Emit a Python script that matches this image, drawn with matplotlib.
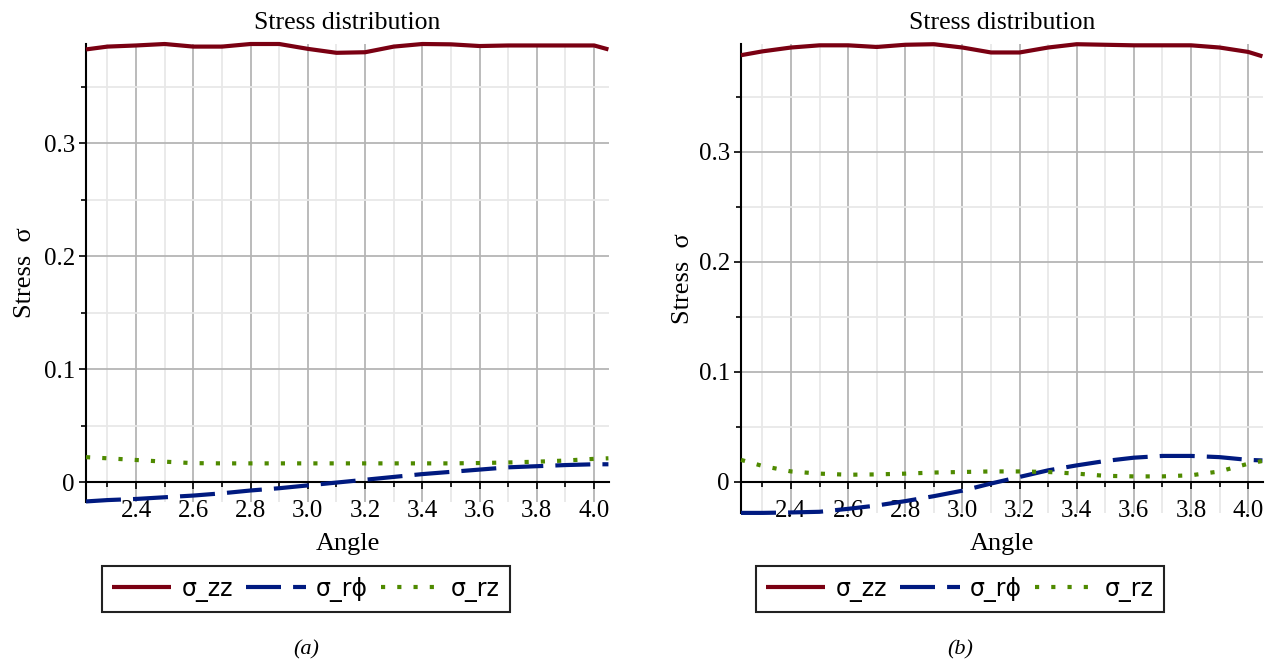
import matplotlib
matplotlib.use('Agg')
import matplotlib.pyplot as plt
from matplotlib.ticker import MultipleLocator, FuncFormatter

# ---------------- data ----------------
angle = [2.225, 2.3, 2.4, 2.5, 2.6, 2.7, 2.8, 2.9, 3.0, 3.1, 3.2,
         3.3, 3.4, 3.5, 3.6, 3.7, 3.8, 3.9, 4.0, 4.05]

# panel (a)
a_zz = [0.383, 0.3855, 0.3865, 0.3878, 0.3855, 0.3855, 0.3878, 0.3878, 0.3835, 0.3800,
        0.3805, 0.3855, 0.3878, 0.3875, 0.3860, 0.3865, 0.3865, 0.3865, 0.3865, 0.3830]
a_rphi = [-0.0172, -0.0160, -0.0150, -0.0135, -0.0120, -0.0100, -0.0075, -0.0055, -0.0030, -0.0005,
          0.0020, 0.0045, 0.0070, 0.0090, 0.0110, 0.0130, 0.0140, 0.0150, 0.0157, 0.0157]
a_rz = [0.0220, 0.0210, 0.0195, 0.0180, 0.0167, 0.0165, 0.0165, 0.0165, 0.0165, 0.0165,
        0.0165, 0.0165, 0.0165, 0.0165, 0.0168, 0.0173, 0.0180, 0.0190, 0.0205, 0.0210]

# panel (b)
b_zz = [0.3880, 0.3915, 0.3950, 0.3970, 0.3970, 0.3955, 0.3975, 0.3980, 0.3950, 0.3905,
        0.3905, 0.3950, 0.3980, 0.3975, 0.3970, 0.3970, 0.3970, 0.3950, 0.3910, 0.3870]
b_rphi = [-0.0282, -0.0282, -0.0278, -0.0272, -0.0245, -0.0215, -0.0175, -0.0130, -0.0080, -0.0015,
          0.0045, 0.0105, 0.0150, 0.0190, 0.0220, 0.0236, 0.0236, 0.0225, 0.0200, 0.0195]
b_rz = [0.0200, 0.0145, 0.0095, 0.0075, 0.0065, 0.0068, 0.0075, 0.0085, 0.0090, 0.0095,
        0.0095, 0.0090, 0.0075, 0.0055, 0.0050, 0.0050, 0.0060, 0.0095, 0.0165, 0.0190]

series_names = ['σ_zz', 'σ_rϕ', 'σ_rz']
x_view = (2.225, 4.052)
y_view_a = (-0.0177, 0.3878)
y_view_b = (-0.0283, 0.3982)
title_text = 'Stress distribution'
xlabel_text = 'Angle'
ylabel_text = 'Stress  σ'
captions = ['(a)', '(b)']

# ---------------- style ----------------
RED = '#7a0012'
BLUE = '#001a80'
GREEN = '#4f8a00'
SERIF = ['Liberation Serif', 'DejaVu Serif']
SANS = ['DejaVu Sans']

W, H = 1274, 664
fig = plt.figure(figsize=(W / 100, H / 100), dpi=100)


def px_rect(l, t, r, b):
    return [l / W, 1 - b / H, (r - l) / W, (b - t) / H]


def fmt_y(v, pos):
    if abs(v) < 1e-9:
        return '0'
    return f'{v:.1f}'


def make_panel(rect, zz, rphi, rz, yview, xlab_y, ylab_x, leg_center, caption):
    ax = fig.add_axes(rect)
    lw = 3.0
    l1, = ax.plot(angle, zz, color=RED, lw=lw, solid_capstyle='butt', clip_on=False, zorder=5)
    l2, = ax.plot(angle, rphi, color=BLUE, lw=lw, linestyle=(0, (8.4, 2.9)),
                  dash_capstyle='butt', clip_on=False, zorder=5)
    l3, = ax.plot(angle, rz, color=GREEN, lw=lw, linestyle=(0, (1.0, 2.9)),
                  dash_capstyle='butt', clip_on=False, zorder=5)
    ax.set_xlim(*x_view)
    ax.set_ylim(*yview)

    for s in ['top', 'right']:
        ax.spines[s].set_visible(False)
    ax.spines['bottom'].set_position(('data', 0))
    ax.spines['bottom'].set_linewidth(1.5)
    ax.spines['left'].set_linewidth(1.5)

    ax.xaxis.set_major_locator(MultipleLocator(0.2))
    ax.xaxis.set_minor_locator(MultipleLocator(0.1))
    ax.yaxis.set_major_locator(MultipleLocator(0.1))
    ax.yaxis.set_minor_locator(MultipleLocator(0.05))
    ax.xaxis.set_major_formatter(FuncFormatter(lambda v, p: f'{v:.1f}'))
    ax.yaxis.set_major_formatter(FuncFormatter(fmt_y))

    ax.grid(True, which='major', color='#b5b5b5', lw=1.3, zorder=0)
    ax.grid(True, which='minor', color='#e8e8e8', lw=1.3, zorder=0)
    ax.set_axisbelow(True)

    ax.tick_params(axis='x', which='major', direction='out', length=5, width=1.2, pad=8)
    ax.tick_params(axis='x', which='minor', direction='out', length=3.5, width=1.2)
    ax.tick_params(axis='y', which='major', direction='out', length=5, width=1.2, pad=3)
    ax.tick_params(axis='y', which='minor', direction='out', length=3.5, width=1.2)
    for lab in ax.get_xticklabels() + ax.get_yticklabels():
        lab.set_family(SERIF)
        lab.set_fontsize(18)

    ax.set_title(title_text, family=SERIF, fontsize=18.5, pad=11)
    ax.set_xlabel(xlabel_text, family=SERIF, fontsize=19)
    ax.xaxis.set_label_coords(0.5, xlab_y)
    ax.set_ylabel(ylabel_text, family=SERIF, fontsize=19)
    ax.yaxis.set_label_coords(ylab_x, 0.5)

    leg = ax.legend([l1, l2, l3], series_names, loc='center',
                    bbox_to_anchor=(leg_center[0] / W, 1 - leg_center[1] / H),
                    bbox_transform=fig.transFigure, ncol=3, frameon=True, fancybox=False,
                    edgecolor='#222222', framealpha=1, prop={'family': SANS, 'size': 17},
                    handlelength=2.5, handletextpad=0.45, columnspacing=0.55,
                    borderpad=0.45, borderaxespad=0)
    leg.get_frame().set_linewidth(1.5)
    fig.text(leg_center[0] / W, 1 - 650 / H, caption, family=SERIF, style='italic',
             fontsize=16, ha='center', va='center')
    return ax


make_panel(px_rect(86, 44, 609, 502), a_zz, a_rphi, a_rz, y_view_a,
           -0.068, -0.095, (306, 589), captions[0])
make_panel(px_rect(741, 44, 1263, 513), b_zz, b_rphi, b_rz, y_view_b,
           -0.043, -0.09, (960, 589), captions[1])

fig.savefig('out.png', dpi=100)
